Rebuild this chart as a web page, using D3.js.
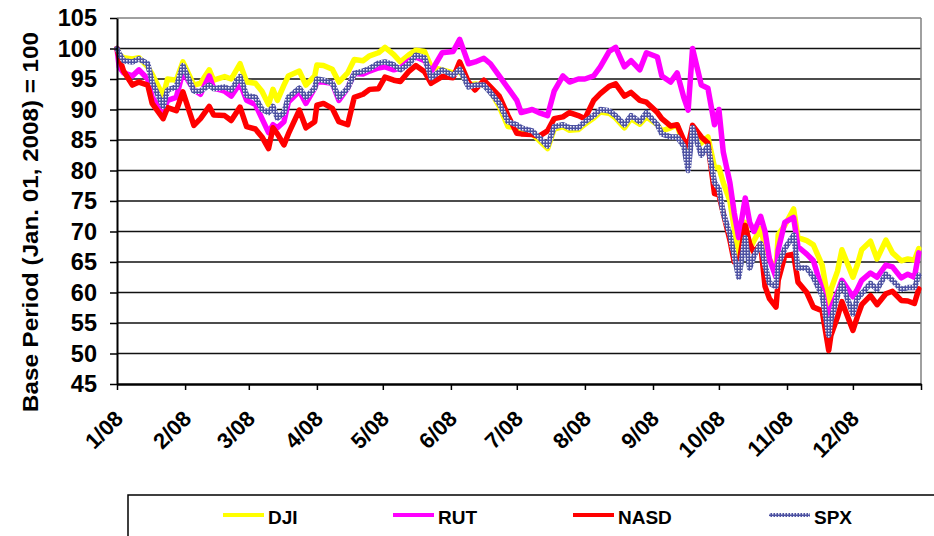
<!DOCTYPE html>
<html>
<head>
<meta charset="UTF-8">
<title>Index performance 2008</title>
<script src="https://cdn.jsdelivr.net/npm/d3@7"></script>
<style>
    body { margin: 0; background: #fff; }
    text { font-family: "Liberation Sans", Arial, sans-serif; font-weight: bold; fill: #000; }
</style>
</head>
<body>
<div id="chart"></div>
<script>
    // trading dates (roughly twice a week)
    var dates = [
        "2008-01-01","2008-01-02","2008-01-04","2008-01-08","2008-01-11","2008-01-15","2008-01-17","2008-01-22","2008-01-24","2008-01-28","2008-01-31",
        "2008-02-05","2008-02-08","2008-02-12","2008-02-14","2008-02-19","2008-02-22","2008-02-26","2008-02-29",
        "2008-03-04","2008-03-07","2008-03-10","2008-03-12","2008-03-14","2008-03-17","2008-03-19","2008-03-24","2008-03-27","2008-03-31",
        "2008-04-01","2008-04-04","2008-04-08","2008-04-11","2008-04-15","2008-04-18","2008-04-22","2008-04-25","2008-04-29",
        "2008-05-02","2008-05-06","2008-05-09","2008-05-13","2008-05-16","2008-05-20","2008-05-23","2008-05-28",
        "2008-06-02","2008-06-05","2008-06-09","2008-06-12","2008-06-16","2008-06-19","2008-06-23","2008-06-27",
        "2008-07-01","2008-07-03","2008-07-08","2008-07-11","2008-07-15","2008-07-18","2008-07-22","2008-07-25","2008-07-29",
        "2008-08-01","2008-08-05","2008-08-08","2008-08-12","2008-08-15","2008-08-19","2008-08-22","2008-08-26","2008-08-29",
        "2008-09-03","2008-09-05","2008-09-09","2008-09-12","2008-09-15","2008-09-17","2008-09-19","2008-09-23","2008-09-26","2008-09-29",
        "2008-10-01","2008-10-03","2008-10-06","2008-10-08","2008-10-10","2008-10-13","2008-10-15","2008-10-17","2008-10-20","2008-10-22","2008-10-24","2008-10-27","2008-10-28","2008-10-31",
        "2008-11-04","2008-11-06","2008-11-10","2008-11-13","2008-11-17","2008-11-20","2008-11-21","2008-11-24","2008-11-26",
        "2008-12-01","2008-12-03","2008-12-05","2008-12-09","2008-12-12","2008-12-16","2008-12-19","2008-12-23","2008-12-26","2008-12-29","2008-12-31"
    ];

    var dji = [
        100, 99, 98.5, 98.3, 98.5, 97, 95.8, 92.2, 95, 94.8, 97.8,
        94, 94.3, 96.5, 94.8, 95.4, 95, 97.5, 94.5,
        94.3, 93, 90.8, 93.3, 91.5, 94, 95.5, 96.3, 94, 95.5,
        97.3, 97.2, 96.6, 94.5, 96, 98.2, 98, 98.8, 99.3,
        100.2, 99, 97.8, 99, 99.7, 99.5, 97, 96.5,
        96, 96.3, 94, 94.2, 94, 93, 90.5, 87.2,
        87, 86.5, 86, 85, 83.6, 86.8, 87.2, 86.6, 86.7,
        87.6, 88.6, 89.6, 89.4, 88.6, 87, 88.5, 87.6, 88.8,
        87.5, 86.5, 87, 87.5, 84, 82, 87, 84.5, 85.5, 80.5,
        80.5, 78, 75, 70.5, 66, 71.5, 67, 68.5, 70.5, 67.5, 65.5, 63.5, 69.5, 71,
        73.7, 69, 68.5, 67.8, 64.5, 58.2, 60.5, 63.5, 67,
        62.5, 64.5, 67, 68.4, 65.5, 68.6, 66.5, 65.2, 65.5, 65.3, 67.2
    ];

    var rut = [
        100, 97, 96, 95.5, 96.5, 95, 92, 89.5, 91.5, 92, 96.2,
        93.2, 92.5, 95.5, 93.5, 93, 92.2, 94.3, 91.5,
        90.8, 88.5, 86.2, 87.5, 87, 88, 91.2, 93, 91, 93.5,
        94.5, 94.5, 94.3, 91.5, 93.5, 95.9, 95.8, 96.3, 96.8,
        97, 96.5, 96.8, 98, 98.6, 98, 96.2, 99.3,
        99.5, 101.5, 97.5, 97.8, 98.4, 97.5, 95.5, 93.5,
        91.5, 89.5, 90, 89.5, 89, 93, 95.5, 94.5, 95,
        95, 95.5, 97, 99.5, 100.2, 97, 98, 96.5, 99.3,
        98.6, 95.5, 94.5, 96, 92, 89.9, 100, 94, 93.5, 87.5,
        90, 83, 78, 73, 69, 75.5, 71.5, 70, 72.5, 70, 65.5, 62.5, 67, 71.5,
        72.3, 67.5, 66.3, 65.2, 60.5, 55, 57.5, 60, 62,
        59.3, 60.5, 62, 63.2, 62.5, 64.5, 64.2, 62.4, 63, 62.5, 66.5
    ];

    var nasd = [
        100, 98.5, 96.3, 94, 94.5, 94, 91, 88.5, 90.3, 89.8, 92.9,
        87.4, 88.5, 90.5, 89.1, 89, 88.2, 90.4, 87.2,
        86.8, 85.5, 83.6, 87, 86, 84.2, 86, 89.9, 87, 88,
        90.7, 91, 90.2, 88, 87.5, 92, 92.5, 93.3, 93.4,
        95.3, 94.8, 94.6, 96.3, 97.2, 96.2, 94.3, 95.4,
        95.2, 97.8, 94.5, 93.2, 94.8, 93.7, 92.2, 89,
        86.1, 86, 85.9, 85.6, 86.5, 88.5, 88.8, 89.5, 89,
        88.5, 91.5, 92.6, 93.8, 94.2, 92.2, 92.8, 91.5, 91.2,
        89.5, 88.5, 87.3, 87.5, 85, 84, 87.4, 85.5, 84.5, 76.2,
        76, 73, 68.6, 65, 64.5, 71, 68, 66.5, 68, 61, 59, 57.6, 62, 66,
        66.3, 61.7, 60, 57.6, 57, 50.5, 53, 56, 58.5,
        53.8, 56, 58, 59.5, 58, 59.8, 60.2, 58.7, 58.6, 58.2, 60.6
    ];

    var spx = [
        100, 99.2, 98, 97.8, 98.3, 97.5, 94.5, 90.5, 93.2, 93.7, 97.2,
        93, 93, 94, 93.4, 93.7, 93.2, 95.4, 92.3,
        92, 90, 89.5, 90.5, 88.6, 89.5, 92, 93.5, 92, 93.5,
        95, 94.8, 94.3, 92, 93.5, 95.9, 96.3, 96.7, 97.6,
        97.8, 97.3, 96.5, 97.5, 98.9, 98.5, 95.2, 96.5,
        95.6, 96.6, 93.7, 94, 94, 92.8, 91, 88,
        87.5, 87, 86.5, 85.5, 84, 87.2, 87.5, 87, 87,
        88, 89, 90, 89.8, 89, 87.5, 89, 88, 89.5,
        87.5, 86, 85.5, 85.5, 84, 80, 87, 82.5, 84, 78,
        77, 73, 69.5, 66, 62.5, 69, 64, 66, 68, 64.5, 61.5, 61, 64.5, 67.2,
        69.4, 64, 64, 62.5, 59.5, 53, 55.5, 59.5, 61.5,
        56.5, 59, 59.8, 61.5, 60.5, 63, 62, 60.5, 60.8, 60.8, 62.8
    ];

    var seriesNames = ["DJI", "RUT", "NASD", "SPX"];
    var yTicks = [45, 50, 55, 60, 65, 70, 75, 80, 85, 90, 95, 100, 105];

    var width = 934, height = 536;
    var plotLeft = 117, plotRight = 921, plotTop = 18, plotBottom = 384;

    var parseDate = d3.timeParse("%Y-%m-%d");
    var days = dates.map(parseDate);

    var svg = d3.select("#chart").append("svg")
        .attr("width", width).attr("height", height);

    // dotted fill used for the SPX line
    var pat = svg.append("defs").append("pattern")
        .attr("id", "spxPat")
        .attr("width", 3).attr("height", 3)
        .attr("patternUnits", "userSpaceOnUse");
    pat.append("rect").attr("width", 3).attr("height", 3).attr("fill", "#4d52a2");
    pat.append("rect").attr("x", 0).attr("y", 0).attr("width", 1.5).attr("height", 1.5).attr("fill", "#eeeef8");

    var colors = { DJI: "#ffff00", RUT: "#ff00ff", NASD: "#ff0000", SPX: "url(#spxPat)" };

    var x = d3.scaleTime()
        .domain([new Date(2008, 0, 1), new Date(2009, 0, 1)])
        .range([plotLeft, plotRight]);
    var y = d3.scaleLinear().domain([45, 105]).range([plotBottom, plotTop]);

    // gridlines
    svg.append("g").selectAll("line")
        .data(yTicks.filter(function (d) { return d > 45; }))
        .enter().append("line")
        .attr("x1", plotLeft).attr("x2", plotRight)
        .attr("y1", function (d) { return y(d); })
        .attr("y2", function (d) { return y(d); })
        .attr("stroke", function (d) { return d === 105 ? "#808080" : "#111"; })
        .attr("stroke-width", 1.7);

    // right border of the plot
    svg.append("line")
        .attr("x1", plotRight).attr("x2", plotRight)
        .attr("y1", plotTop).attr("y2", plotBottom)
        .attr("stroke", "#808080").attr("stroke-width", 1.5);

    // lines
    var line = d3.line()
        .x(function (d) { return x(d[0]); })
        .y(function (d) { return y(d[1]); });

    var table = { DJI: dji, RUT: rut, NASD: nasd, SPX: spx };

    svg.append("g").selectAll("path")
        .data(seriesNames)
        .enter().append("path")
        .attr("d", function (name) {
            return line(days.map(function (t, i) { return [t, table[name][i]]; }));
        })
        .attr("fill", "none")
        .attr("stroke", function (name) { return colors[name]; })
        .attr("stroke-width", 5.5)
        .attr("stroke-linejoin", "round")
        .attr("stroke-linecap", "round");

    // y axis
    var yAxis = svg.append("g")
        .attr("transform", "translate(" + plotLeft + ",0)")
        .call(d3.axisLeft(y).tickValues(yTicks).tickSize(7).tickPadding(13).tickSizeOuter(0));
    yAxis.select(".domain").attr("stroke", "#000").attr("stroke-width", 2);
    yAxis.selectAll(".tick line").attr("stroke", "#000").attr("stroke-width", 1.5);
    yAxis.selectAll("text")
        .style("font-size", "23.5px")
        .style("font-family", "'Liberation Sans', Arial, sans-serif")
        .style("font-weight", "bold")
        .attr("fill", "#000");

    // x axis
    var months = d3.timeMonth.range(new Date(2008, 0, 1), new Date(2009, 0, 2));
    var fmt = d3.timeFormat("%-m/%y");
    var xAxis = svg.append("g")
        .attr("transform", "translate(0," + plotBottom + ")")
        .call(d3.axisBottom(x).tickValues(months).tickSize(6).tickSizeOuter(0)
            .tickFormat(function (d) { return d.getFullYear() === 2009 ? "" : fmt(d); }));
    xAxis.select(".domain").attr("stroke", "#000").attr("stroke-width", 2.5);
    xAxis.selectAll(".tick line").attr("stroke", "#000").attr("stroke-width", 1.5);
    xAxis.selectAll("text")
        .attr("x", 0).attr("y", 0).attr("dy", 0)
        .attr("text-anchor", "end")
        .attr("transform", "translate(7,36) rotate(-45)")
        .style("font-size", "22px")
        .style("font-family", "'Liberation Sans', Arial, sans-serif")
        .style("font-weight", "bold")
        .attr("fill", "#000");

    // y axis title
    svg.append("text")
        .attr("transform", "translate(38,222) rotate(-90)")
        .attr("text-anchor", "middle")
        .attr("textLength", 380)
        .attr("lengthAdjust", "spacingAndGlyphs")
        .style("font-size", "22px")
        .text("Base Period (Jan. 01, 2008) = 100");

    // legend
    var legend = svg.append("g");
    legend.append("rect")
        .attr("x", 128).attr("y", 495)
        .attr("width", 830).attr("height", 60)
        .attr("fill", "#fff").attr("stroke", "#000").attr("stroke-width", 1.5);

    var legendX = { DJI: 223, RUT: 393, NASD: 573, SPX: 769 };
    var item = legend.selectAll(".item")
        .data(seriesNames)
        .enter().append("g")
        .attr("class", "item")
        .attr("transform", function (d) { return "translate(" + legendX[d] + ",0)"; });
    item.append("line")
        .attr("x1", 0).attr("x2", 41)
        .attr("y1", 515).attr("y2", 515)
        .attr("stroke", function (d) { return colors[d]; })
        .attr("stroke-width", 4);
    item.append("text")
        .attr("x", 45).attr("y", 524)
        .style("font-size", "19px")
        .text(function (d) { return d; });
</script>
</body>
</html>
